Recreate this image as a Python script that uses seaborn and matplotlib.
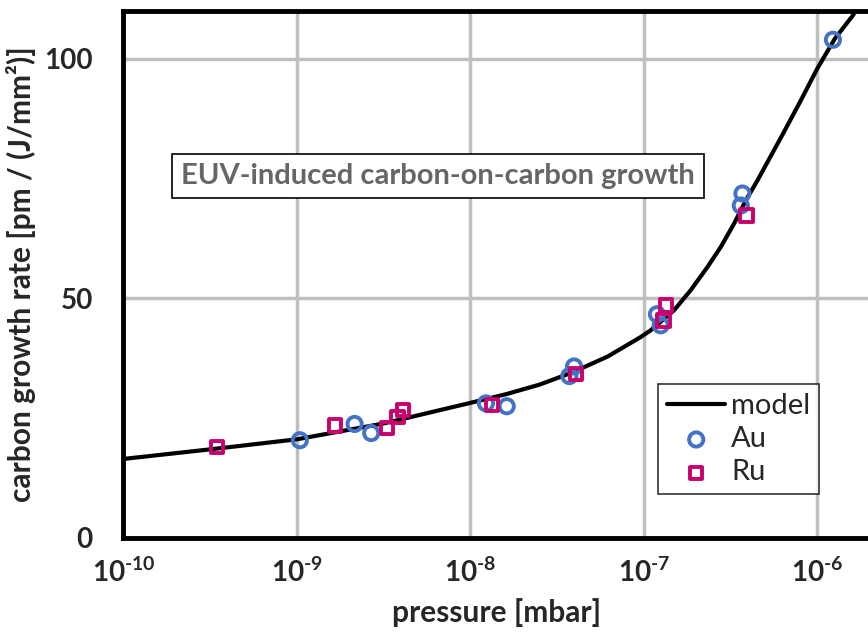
import matplotlib
matplotlib.use("Agg")
import matplotlib.pyplot as plt
import seaborn as sns
import pandas as pd
from matplotlib.ticker import LogLocator, NullFormatter, FixedLocator

# model curve (pressure in mbar, rate in pm/(J/mm2))
model_p = [1e-10, 3.16e-10, 1e-9, 3.16e-9, 1e-8, 1.6e-8, 2.5e-8, 3.9e-8, 6.2e-8,
           9.55e-8, 1.09e-7, 1.49e-7, 1.86e-7, 2.32e-7, 2.77e-7, 3.31e-7,
           3.86e-7, 4.51e-7, 6.15e-7, 7.94e-7, 1e-6, 1.26e-6, 1.62e-6]
model_rate = [16.5, 18.5, 20.6, 23.9, 28.2, 30.0, 32.0, 34.6, 37.9,
              41.9, 43.3, 47.5, 51.7, 56.5, 60.7, 65.6,
              70.4, 74.6, 83.5, 91.0, 98.0, 104.2, 109.3]

au_p = [1.04e-9, 2.15e-9, 2.68e-9, 1.23e-8, 1.62e-8, 3.72e-8, 3.96e-8,
        1.19e-7, 1.25e-7, 3.62e-7, 3.7e-7, 1.23e-6]
au_rate = [20.4, 23.8, 21.9, 28.1, 27.5, 33.8, 35.8,
           46.7, 44.4, 69.4, 71.9, 104.0]

ru_p = [3.47e-10, 1.66e-9, 3.3e-9, 3.8e-9, 4.1e-9, 1.33e-8, 4.05e-8,
        1.30e-7, 1.34e-7, 3.9e-7]
ru_rate = [19.0, 23.5, 22.9, 25.2, 26.7, 27.7, 34.2,
           45.4, 48.5, 67.3]

x_ticks = [1e-10, 1e-9, 1e-8, 1e-7, 1e-6]
x_tick_labels = [r"$\mathbf{10^{\text{-10}}}$", r"$\mathbf{10^{\text{-9}}}$",
                 r"$\mathbf{10^{\text{-8}}}$", r"$\mathbf{10^{\text{-7}}}$",
                 r"$\mathbf{10^{\text{-6}}}$"]
y_ticks = [0, 50, 100]

sns.set_style("white")
plt.rcParams['font.family'] = ['Lato', 'DejaVu Sans']
plt.rcParams['font.weight'] = 'bold'
plt.rcParams['mathtext.fontset'] = 'custom'
plt.rcParams['mathtext.rm'] = 'Lato:bold'
plt.rcParams['mathtext.bf'] = 'Lato:bold'

fig = plt.figure(figsize=(8.68, 6.4), dpi=100)
ax = fig.add_axes([0.1422, 0.1594, 0.8594, 0.8234])

model_df = pd.DataFrame({"p": model_p, "rate": model_rate})
au_df = pd.DataFrame({"p": au_p, "rate": au_rate})
ru_df = pd.DataFrame({"p": ru_p, "rate": ru_rate})

sns.lineplot(data=model_df, x="p", y="rate", ax=ax, color="black", linewidth=3,
             label="model", zorder=3)
sns.scatterplot(data=au_df, x="p", y="rate", ax=ax, marker="o", s=105,
                facecolor="none", edgecolor="#4472C4", linewidth=2.8,
                label="Au", zorder=4)
sns.scatterplot(data=ru_df, x="p", y="rate", ax=ax, marker="s", s=80,
                facecolor="none", edgecolor="#C8006E", linewidth=2.8,
                label="Ru", zorder=5)

ax.set_xscale("log")
ax.set_xlim(1e-10, 10 ** -5.7)
ax.set_ylim(0, 110)

ax.xaxis.set_major_locator(FixedLocator(x_ticks))
ax.set_xticklabels(x_tick_labels)
ax.xaxis.set_minor_locator(LogLocator(base=10, subs=range(2, 10), numticks=20))
ax.xaxis.set_minor_formatter(NullFormatter())
ax.set_yticks(y_ticks)
ax.set_yticklabels([str(v) for v in y_ticks], fontweight="bold")

ax.tick_params(axis="x", which="major", direction="in", length=8, width=2,
               labelsize=20, pad=14, color="black")
ax.tick_params(axis="x", which="minor", direction="in", length=5, width=1.8,
               color="black")
ax.tick_params(axis="y", which="major", length=0, labelsize=20, pad=22)

ax.grid(True, which="major", color="#BFBFBF", linewidth=2.5)
ax.set_axisbelow(True)

for side in ["left", "bottom", "top"]:
    ax.spines[side].set_linewidth(3.5)
    ax.spines[side].set_color("black")
ax.spines["right"].set_visible(False)

ax.set_xlabel("pressure [mbar]", fontsize=21.5, fontweight="bold", labelpad=8)
ax.set_ylabel("carbon growth rate [pm / (J/mm²)]", fontsize=21.5,
              fontweight="bold", labelpad=6)

ax.text(0.4217, 0.687, "EUV-induced carbon-on-carbon growth", transform=ax.transAxes,
        ha="center", va="center", fontsize=21, fontweight="bold", color="#666666",
        bbox=dict(boxstyle="square,pad=0.3", facecolor="white", edgecolor="black",
                  linewidth=1.2), zorder=6)

leg = ax.legend(loc="upper left", bbox_to_anchor=(0.717, 0.292), borderaxespad=0,
                prop={"family": ["Lato", "DejaVu Sans"], "weight": "normal", "size": 21},
                frameon=True, fancybox=False, edgecolor="black",
                handlelength=2.0, handletextpad=0.2, labelspacing=0.25,
                borderpad=0.3)
leg.get_frame().set_linewidth(1.2)
leg.set_zorder(7)

plt.savefig("out.png", dpi=100)
plt.close()
